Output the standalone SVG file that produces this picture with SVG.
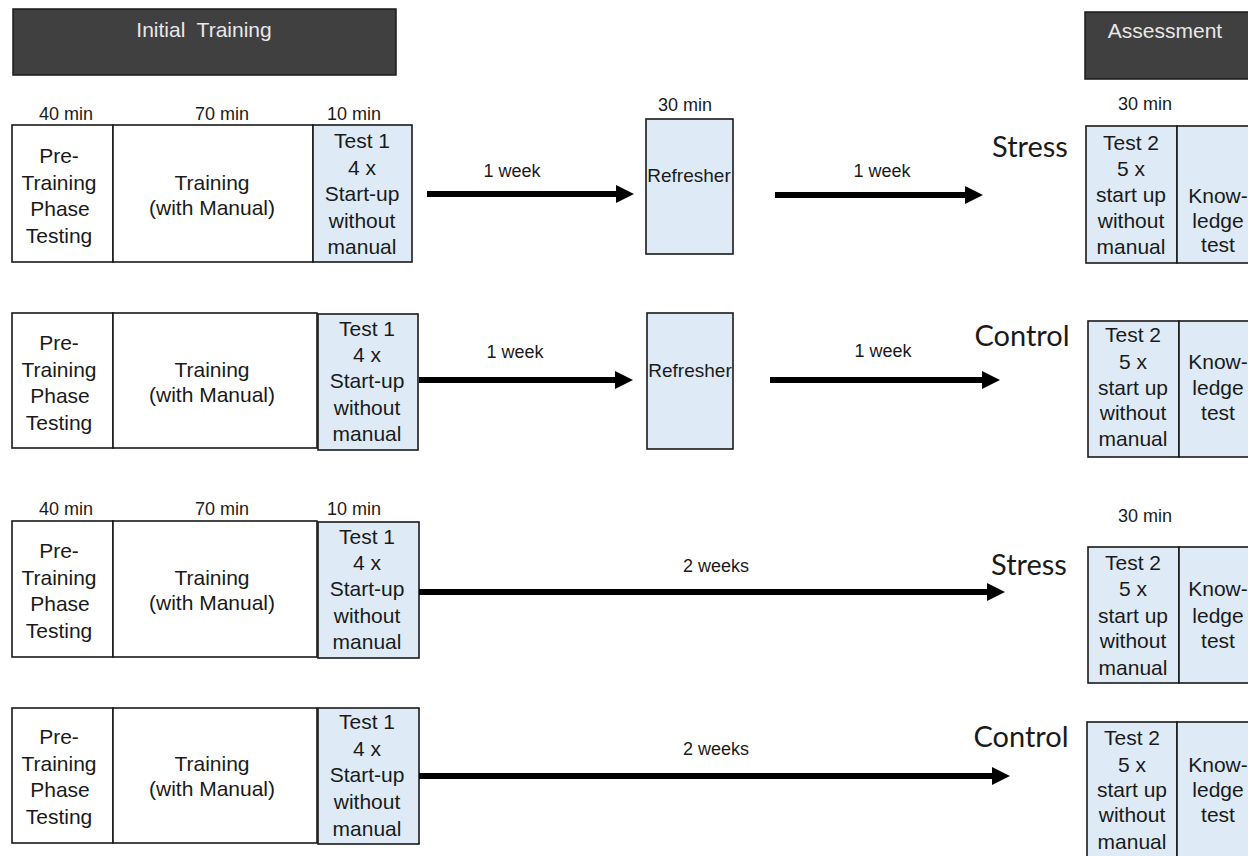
<svg xmlns="http://www.w3.org/2000/svg" width="1248" height="856" viewBox="0 0 1248 856">
<style>
  text { font-family: "Liberation Sans", Arial, sans-serif; fill: #1a1a1a; text-anchor: middle; }
  .hdr { fill: #404040; stroke: #1a1a1a; stroke-width: 1.5; }
  .hdrt { fill: #e8e8e8; font-size: 21px; }
  .w { fill: #ffffff; stroke: #1a1a1a; stroke-width: 1.6; }
  .b { fill: #deebf7; stroke: #1a1a1a; stroke-width: 1.6; }
  .t { font-size: 21px; }
  .m { font-size: 18px; }
  .r { font-size: 19px; }
  .g { font-family: Lato, "Open Sans", sans-serif; font-size: 29px; }
  .arr { stroke: #000; stroke-width: 6; fill: none; marker-end: url(#ah); }
</style>
<defs>
  <marker id="ah" viewBox="0 0 10 10" markerWidth="3" markerHeight="3" refX="0" refY="5" orient="auto" markerUnits="strokeWidth">
    <path d="M0,0 L10,5 L0,10 z" fill="#000"/>
  </marker>
</defs>
<rect width="1248" height="856" fill="#ffffff"/>

<g id="hdr-initial">
  <rect class="hdr" x="13" y="9" width="383" height="66"/>
  <text class="hdrt" x="204" y="37" xml:space="preserve">Initial  Training</text>
</g>
<g id="hdr-assessment">
  <rect class="hdr" x="1085" y="12" width="175" height="67"/>
  <text class="hdrt" x="1165" y="38">Assessment</text>
</g>

<!-- Row 1 -->
<g id="row1-labels">
  <text class="m" x="66" y="120">40 min</text>
  <text class="m" x="222" y="120">70 min</text>
  <text class="m" x="354" y="120">10 min</text>
  <text class="m" x="685" y="111">30 min</text>
  <text class="m" x="1145" y="110">30 min</text>
</g>
<g id="row1-pre">
  <rect class="w" x="12" y="125" width="101" height="137"/>
  <text class="t" x="59" y="163">Pre-</text>
  <text class="t" x="59" y="190">Training</text>
  <text class="t" x="60" y="216">Phase</text>
  <text class="t" x="59" y="243">Testing</text>
</g>
<g id="row1-training">
  <rect class="w" x="113" y="125" width="200" height="137"/>
  <text class="t" x="212" y="190">Training</text>
  <text class="t" x="212" y="215">(with Manual)</text>
</g>
<g id="row1-test1">
  <rect class="b" x="313" y="125" width="99" height="137"/>
  <text class="t" x="362" y="148">Test 1</text>
  <text class="t" x="362" y="175">4 x</text>
  <text class="t" x="362" y="201">Start-up</text>
  <text class="t" x="362" y="228">without</text>
  <text class="t" x="362" y="254">manual</text>
</g>
<g id="row1-refresher">
  <rect class="b" x="646" y="119" width="87" height="135"/>
  <text class="r" x="689" y="182">Refresher</text>
</g>
<g id="row1-stress"><text class="g" x="1030" y="157">Stress</text></g>
<g id="row1-test2">
  <rect class="b" x="1086" y="126" width="91" height="137"/>
  <text class="t" x="1131" y="150">Test 2</text>
  <text class="t" x="1131" y="176">5 x</text>
  <text class="t" x="1131" y="202">start up</text>
  <text class="t" x="1131" y="228">without</text>
  <text class="t" x="1131" y="254">manual</text>
</g>
<g id="row1-knowledge">
  <rect class="b" x="1177" y="126" width="85" height="137"/>
  <text class="t" x="1218" y="203">Know-</text>
  <text class="t" x="1218" y="228">ledge</text>
  <text class="t" x="1218" y="252">test</text>
</g>

<!-- Row 2 -->
<g id="row2-pre">
  <rect class="w" x="12" y="313" width="101" height="135"/>
  <text class="t" x="59" y="350">Pre-</text>
  <text class="t" x="59" y="377">Training</text>
  <text class="t" x="60" y="403">Phase</text>
  <text class="t" x="59" y="430">Testing</text>
</g>
<g id="row2-training">
  <rect class="w" x="113" y="313" width="204" height="135"/>
  <text class="t" x="212" y="377">Training</text>
  <text class="t" x="212" y="402">(with Manual)</text>
</g>
<g id="row2-test1">
  <rect class="b" x="318" y="314" width="100" height="136"/>
  <text class="t" x="367" y="336">Test 1</text>
  <text class="t" x="367" y="362">4 x</text>
  <text class="t" x="367" y="388">Start-up</text>
  <text class="t" x="367" y="415">without</text>
  <text class="t" x="367" y="441">manual</text>
</g>
<g id="row2-refresher">
  <rect class="b" x="647" y="313" width="86" height="136"/>
  <text class="r" x="690" y="377">Refresher</text>
</g>
<g id="row2-control"><text class="g" x="1022" y="346">Control</text></g>
<g id="row2-test2">
  <rect class="b" x="1088" y="321" width="91" height="136"/>
  <text class="t" x="1133" y="342">Test 2</text>
  <text class="t" x="1133" y="369">5 x</text>
  <text class="t" x="1133" y="395">start up</text>
  <text class="t" x="1133" y="420">without</text>
  <text class="t" x="1133" y="446">manual</text>
</g>
<g id="row2-knowledge">
  <rect class="b" x="1179" y="321" width="83" height="136"/>
  <text class="t" x="1218" y="369">Know-</text>
  <text class="t" x="1218" y="395">ledge</text>
  <text class="t" x="1218" y="420">test</text>
</g>

<!-- Row 3 -->
<g id="row3-labels">
  <text class="m" x="66" y="515">40 min</text>
  <text class="m" x="222" y="515">70 min</text>
  <text class="m" x="354" y="515">10 min</text>
  <text class="m" x="1145" y="522">30 min</text>
</g>
<g id="row3-pre">
  <rect class="w" x="12" y="521" width="101" height="136"/>
  <text class="t" x="59" y="558">Pre-</text>
  <text class="t" x="59" y="585">Training</text>
  <text class="t" x="60" y="611">Phase</text>
  <text class="t" x="59" y="638">Testing</text>
</g>
<g id="row3-training">
  <rect class="w" x="113" y="521" width="204" height="136"/>
  <text class="t" x="212" y="585">Training</text>
  <text class="t" x="212" y="610">(with Manual)</text>
</g>
<g id="row3-test1">
  <rect class="b" x="318" y="522" width="101" height="136"/>
  <text class="t" x="367" y="544">Test 1</text>
  <text class="t" x="367" y="570">4 x</text>
  <text class="t" x="367" y="596">Start-up</text>
  <text class="t" x="367" y="623">without</text>
  <text class="t" x="367" y="649">manual</text>
</g>
<g id="row3-stress"><text class="g" x="1029" y="575">Stress</text></g>
<g id="row3-test2">
  <rect class="b" x="1088" y="547" width="91" height="136"/>
  <text class="t" x="1133" y="570">Test 2</text>
  <text class="t" x="1133" y="596">5 x</text>
  <text class="t" x="1133" y="623">start up</text>
  <text class="t" x="1133" y="648">without</text>
  <text class="t" x="1133" y="675">manual</text>
</g>
<g id="row3-knowledge">
  <rect class="b" x="1179" y="547" width="83" height="136"/>
  <text class="t" x="1218" y="596">Know-</text>
  <text class="t" x="1218" y="623">ledge</text>
  <text class="t" x="1218" y="648">test</text>
</g>

<!-- Row 4 -->
<g id="row4-pre">
  <rect class="w" x="12" y="708" width="101" height="135"/>
  <text class="t" x="59" y="744">Pre-</text>
  <text class="t" x="59" y="771">Training</text>
  <text class="t" x="60" y="797">Phase</text>
  <text class="t" x="59" y="824">Testing</text>
</g>
<g id="row4-training">
  <rect class="w" x="113" y="708" width="204" height="135"/>
  <text class="t" x="212" y="771">Training</text>
  <text class="t" x="212" y="796">(with Manual)</text>
</g>
<g id="row4-test1">
  <rect class="b" x="318" y="708" width="101" height="136"/>
  <text class="t" x="367" y="729">Test 1</text>
  <text class="t" x="367" y="756">4 x</text>
  <text class="t" x="367" y="782">Start-up</text>
  <text class="t" x="367" y="809">without</text>
  <text class="t" x="367" y="836">manual</text>
</g>
<g id="row4-control"><text class="g" x="1021" y="747">Control</text></g>
<g id="row4-test2">
  <rect class="b" x="1087" y="722" width="90" height="140"/>
  <text class="t" x="1132" y="745">Test 2</text>
  <text class="t" x="1132" y="772">5 x</text>
  <text class="t" x="1132" y="797">start up</text>
  <text class="t" x="1132" y="822">without</text>
  <text class="t" x="1132" y="849">manual</text>
</g>
<g id="row4-knowledge">
  <rect class="b" x="1177" y="722" width="85" height="140"/>
  <text class="t" x="1218" y="772">Know-</text>
  <text class="t" x="1218" y="797">ledge</text>
  <text class="t" x="1218" y="822">test</text>
</g>

<!-- Connectors -->
<g id="connectors">
  <line class="arr" x1="427" y1="194" x2="616" y2="194"/>
  <line class="arr" x1="775" y1="195" x2="965" y2="195"/>
  <line class="arr" x1="419" y1="380" x2="615" y2="380"/>
  <line class="arr" x1="770" y1="380" x2="982" y2="380"/>
  <line class="arr" x1="419" y1="592" x2="987" y2="592"/>
  <line class="arr" x1="419" y1="776" x2="992" y2="776"/>
  <text class="m" x="512" y="177">1 week</text>
  <text class="m" x="882" y="177">1 week</text>
  <text class="m" x="515" y="358">1 week</text>
  <text class="m" x="883" y="357">1 week</text>
  <text class="m" x="716" y="572">2 weeks</text>
  <text class="m" x="716" y="755">2 weeks</text>
</g>
</svg>
